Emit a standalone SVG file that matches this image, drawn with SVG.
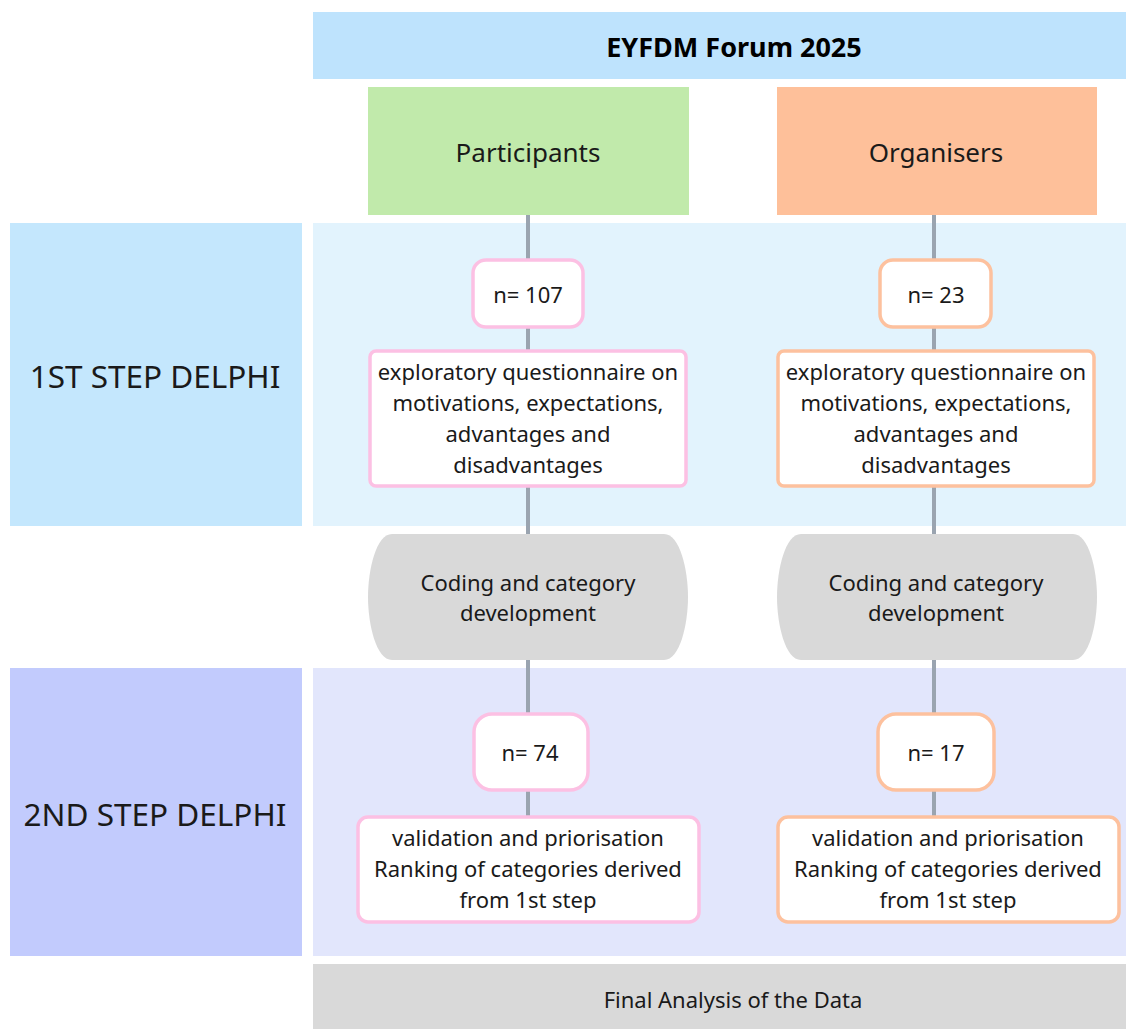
<svg xmlns="http://www.w3.org/2000/svg" width="1126" height="1029" viewBox="0 0 1126 1029">
<style>
text{font-family:"Noto Sans","Open Sans","Liberation Sans",sans-serif;fill:#1a1a1a;text-anchor:middle}
.t{font-size:22px}
.big{font-size:26px}
.step{font-size:31.5px}
.conn{stroke:#9aa4b0;stroke-width:4;fill:none}
.pink{fill:#fff;stroke:#fcc0e3;stroke-width:3.5}
.orng{fill:#fff;stroke:#fdc19e;stroke-width:3.5}
.gray{fill:#d9d9d9}
</style>
<rect width="1126" height="1029" fill="#fff"/>
<g id="panels">
<rect x="10" y="223" width="292" height="303" fill="#c4e7fd"/>
<rect x="313" y="223" width="813" height="303" fill="#e2f3fd"/>
<rect x="10" y="668" width="292" height="288" fill="#c2cbfd"/>
<rect x="313" y="668" width="813" height="288" fill="#e2e6fc"/>
</g>
<g id="connectors">
<line class="conn" x1="528" y1="215" x2="528" y2="816"/>
<line class="conn" x1="934" y1="215" x2="934" y2="816"/>
</g>
<g id="header"><rect x="313" y="12" width="813" height="67" fill="#bee3fd"/><text x="734" y="57" style="font-size:27px;font-weight:bold;fill:#000">EYFDM Forum 2025</text></g>
<g id="participants"><rect x="368" y="87" width="321" height="128" fill="#c1eaab"/><text class="big" x="528" y="162">Participants</text></g>
<g id="organisers"><rect x="777" y="87" width="320" height="128" fill="#fec09a"/><text class="big" x="936" y="162">Organisers</text></g>
<g id="step1"><text class="step" x="155" y="388">1ST STEP DELPHI</text></g>
<g id="step2"><text class="step" x="155" y="826">2ND STEP DELPHI</text></g>
<g id="n107"><rect class="pink" x="473" y="260" width="110" height="67" rx="13"/><text class="t" x="528" y="303">n= 107</text></g>
<g id="n23"><rect class="orng" x="880" y="260" width="111" height="67" rx="13"/><text class="t" x="936" y="303">n= 23</text></g>
<g id="q1"><rect class="pink" x="370" y="351" width="316" height="135" rx="6"/>
<text class="t" x="528" y="380">exploratory questionnaire on</text><text class="t" x="528" y="411">motivations, expectations,</text><text class="t" x="528" y="442">advantages and</text><text class="t" x="528" y="473">disadvantages</text></g>
<g id="q2"><rect class="orng" x="778" y="351" width="316" height="135" rx="6"/>
<text class="t" x="936" y="380">exploratory questionnaire on</text><text class="t" x="936" y="411">motivations, expectations,</text><text class="t" x="936" y="442">advantages and</text><text class="t" x="936" y="473">disadvantages</text></g>
<g id="coding1"><path class="gray" d="M392 534H664C680 534 688 570 688 597C688 624 680 660 664 660H392C376 660 368 624 368 597C368 570 376 534 392 534Z"/>
<text class="t" x="528" y="591">Coding and category</text><text class="t" x="528" y="621">development</text></g>
<g id="coding2"><path class="gray" d="M801 534H1073C1089 534 1097 570 1097 597C1097 624 1089 660 1073 660H801C785 660 777 624 777 597C777 570 785 534 801 534Z"/>
<text class="t" x="936" y="591">Coding and category</text><text class="t" x="936" y="621">development</text></g>
<g id="n74"><rect class="pink" x="474" y="714" width="114" height="76" rx="18"/><text class="t" x="530" y="761">n= 74</text></g>
<g id="n17"><rect class="orng" x="878" y="714" width="116" height="76" rx="18"/><text class="t" x="936" y="761">n= 17</text></g>
<g id="v1"><rect class="pink" x="358" y="817" width="341" height="105" rx="10"/>
<text class="t" x="528" y="846">validation and priorisation</text><text class="t" x="528" y="877">Ranking of categories derived</text><text class="t" x="528" y="908">from 1st step</text></g>
<g id="v2"><rect class="orng" x="778" y="817" width="341" height="105" rx="10"/>
<text class="t" x="948" y="846">validation and priorisation</text><text class="t" x="948" y="877">Ranking of categories derived</text><text class="t" x="948" y="908">from 1st step</text></g>
<g id="final"><rect class="gray" x="313" y="964" width="813" height="65"/><text x="733" y="1008" style="font-size:22px">Final Analysis of the Data</text></g>
</svg>
